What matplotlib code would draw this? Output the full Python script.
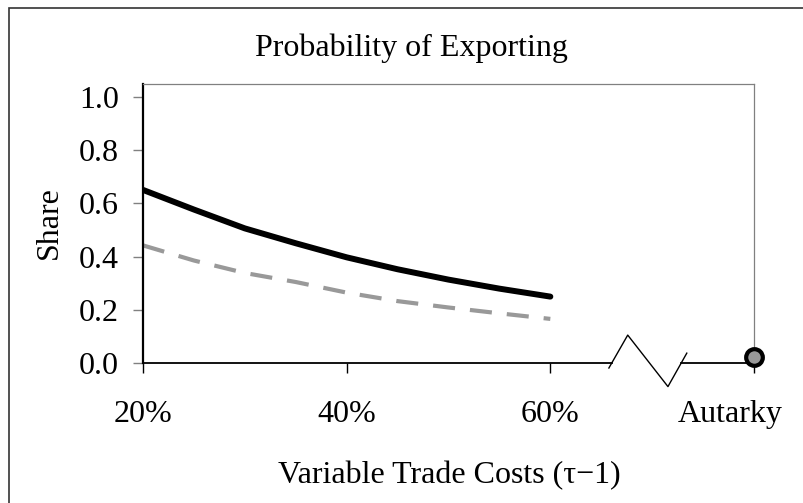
import matplotlib
matplotlib.use("Agg")
import matplotlib.pyplot as plt
from matplotlib.patches import Rectangle
from matplotlib.transforms import ScaledTranslation

plt.rcParams["font.family"] = ["Liberation Serif", "DejaVu Serif"]
plt.rcParams["font.size"] = 23

# ===== data =====
trade_cost = [20, 25, 30, 35, 40, 45, 50, 55, 60]
share_solid = [0.651, 0.577, 0.506, 0.450, 0.397, 0.352, 0.313, 0.279, 0.249]
share_dashed = [0.442, 0.385, 0.338, 0.304, 0.264, 0.232, 0.208, 0.186, 0.165]
autarky_x = [80]
autarky_share = [0.02]
tick_pos = [20, 40, 60, 80]
tick_labels = ["20%", "40%", "60%", "Autarky"]

# axis-break decoration (data coords)
break_x = [65.75, 67.6, 71.55, 73.4]
break_y = [-0.02, 0.104, -0.09, 0.036]
axis_gap = (66.05, 72.86)

fig = plt.figure(figsize=(8.04, 5.03), dpi=100)
ax = fig.add_axes([143 / 804, 1 - 362.7 / 503, (754 - 143) / 804, (362.7 - 84) / 503])

# outer frame (only left/top edges fall inside the picture)
fig.patches.append(Rectangle((8.5 / 804, -0.1), 1.2, 1 - 8 / 503 + 0.1, transform=fig.transFigure,
                             fill=False, edgecolor="#333333", linewidth=1.2))

ax.plot(trade_cost, share_dashed, color="#999999", lw=3, dashes=(5.3, 3.6), dash_capstyle="butt")
ax.plot(trade_cost, share_solid, color="black", lw=4.3, solid_capstyle="round")
ax.plot(autarky_x, autarky_share, "o", ms=12, mfc="#999999", mec="black", mew=3,
        clip_on=False, zorder=5)

# broken x axis
ax.plot([20, axis_gap[0]], [0, 0], color="black", lw=1.3, clip_on=False)
ax.plot([axis_gap[1], 80], [0, 0], color="black", lw=1.3, clip_on=False)
ax.plot(break_x, break_y, color="black", lw=1.0, clip_on=False)

ax.set_xlim(20, 80)
ax.set_ylim(0, 1.05)
ax.set_yticks([0, 0.2, 0.4, 0.6, 0.8, 1.0])
ax.set_yticklabels(["0.0", "0.2", "0.4", "0.6", "0.8", "1.0"])
ax.set_xticks(tick_pos)
ax.set_xticklabels(tick_labels)

ax.spines["bottom"].set_visible(False)
ax.spines["left"].set_color("black")
ax.spines["left"].set_linewidth(1.6)
for s in ["top", "right"]:
    ax.spines[s].set_color("#808080")
    ax.spines[s].set_linewidth(0.9)

ax.tick_params(axis="y", direction="out", length=7.2, width=1.0, color="#808080", pad=10)
ax.tick_params(axis="x", direction="out", length=7.2, width=1.0, color="black", pad=20)
xt = ax.xaxis.get_major_ticks()
xt[0].tick1line.set_color("#808080")
xt[-1].tick1line.set_color("#808080")

lab = ax.get_xticklabels()[-1]
lab.set_transform(lab.get_transform() + ScaledTranslation(-0.24, 0, fig.dpi_scale_trans))

ax.set_ylabel("Share")
ax.yaxis.label.set_transform(fig.transFigure)
ax.yaxis.label.set_position((49 / 804, 0.5))
ax.yaxis.label.set_verticalalignment("center")
ax.yaxis.set_label_coords(49 / 804, 1 - 223 / 503, transform=fig.transFigure)

fig.text(449 / 804, 1 - 476 / 503, "Variable Trade Costs (τ−1)", ha="center", va="center")
fig.text(411 / 804, 1 - 48 / 503, "Probability of Exporting", ha="center", va="center")

fig.savefig("out.png", dpi=100)
